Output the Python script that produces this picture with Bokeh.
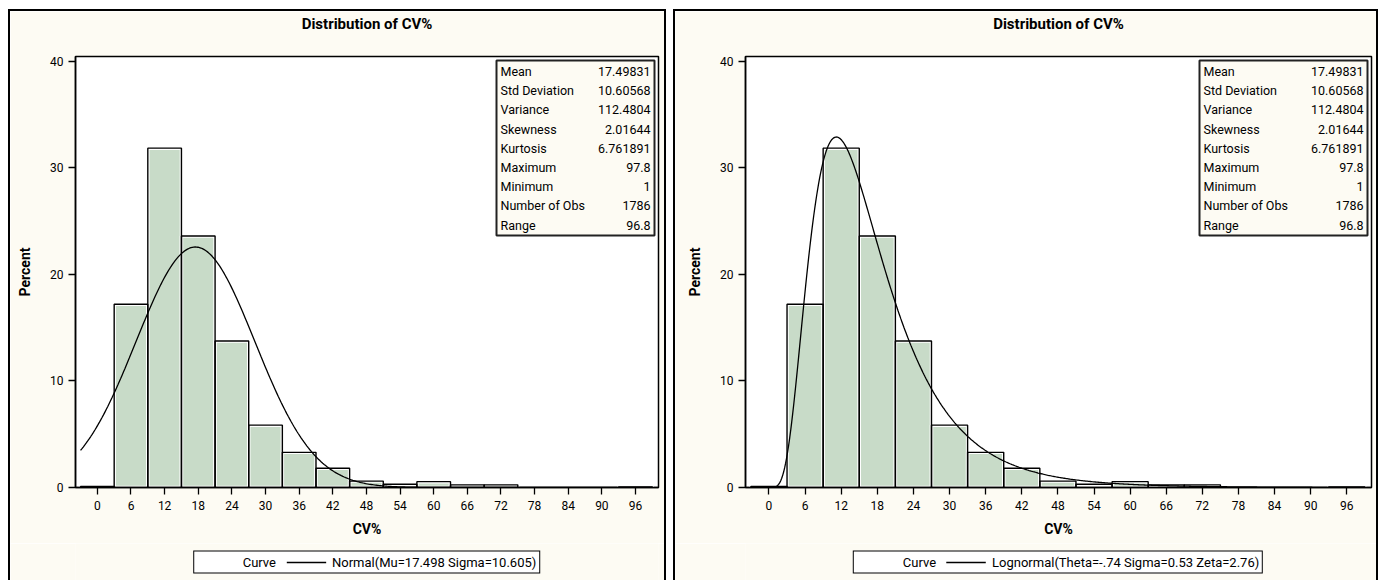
import numpy as np
from bokeh.plotting import figure
from bokeh.models import Range1d, FixedTicker, ColumnDataSource, Legend, LegendItem, Title
from bokeh.layouts import row, column
from bokeh.embed import file_html
from bokeh.resources import INLINE
from bokeh.core.properties import value

# ---------------- data ----------------
bin_centers = [0, 6, 12, 18, 24, 30, 36, 42, 48, 54, 60, 66, 72, 78, 84, 90, 96]
percent = [0.1, 17.2, 31.85, 23.6, 13.75, 5.85, 3.3, 1.8, 0.6, 0.3, 0.55, 0.25, 0.25, 0.0, 0.0, 0.0, 0.06]
bin_width = 6
x_ticks = [0, 6, 12, 18, 24, 30, 36, 42, 48, 54, 60, 66, 72, 78, 84, 90, 96]
y_ticks = [0, 10, 20, 30, 40]
chart_title = "Distribution of CV%"
x_label = "CV%"
y_label = "Percent"
stat_names = ["Mean", "Std Deviation", "Variance", "Skewness", "Kurtosis",
              "Maximum", "Minimum", "Number of Obs", "Range"]
stat_values = ["17.49831", "10.60568", "112.4804", "2.01644", "6.761891",
               "97.8", "1", "1786", "96.8"]
normal_mu, normal_sigma = 17.498, 10.605
logn_theta, logn_sigma, logn_zeta = -0.74, 0.53, 2.76
legend_title = "Curve"
legend_left = "Normal(Mu=17.498 Sigma=10.605)"
legend_right = "Lognormal(Theta=-.74 Sigma=0.53 Zeta=2.76)"

# ---------------- style ----------------
FONT = "Roboto"
BAR = "#c8dbc8"
PANEL_BG = "#fdfbf3"
X_MIN, X_MAX = -3.9, 100.1
Y_MIN, Y_MAX = 0.0, 40.45
FRAME_H = 431
BORDER = {"border-top": "2px solid black", "border-left": "2px solid black",
          "border-right": "2px solid black"}


def normal_pct(xs):
    return 100 * bin_width * np.exp(-0.5 * ((xs - normal_mu) / normal_sigma) ** 2) / (normal_sigma * np.sqrt(2 * np.pi))


def lognormal_pct(xs):
    t = xs - logn_theta
    return 100 * bin_width * np.exp(-((np.log(t) - logn_zeta) ** 2) / (2 * logn_sigma ** 2)) / (t * logn_sigma * np.sqrt(2 * np.pi))


def panel(curve_x, curve_y, legend_text, frame_w, border_left, border_right, box_w):
    p = figure(frame_width=frame_w, frame_height=FRAME_H,
               min_border_left=border_left, min_border_right=border_right,
               min_border_top=45, min_border_bottom=56,
               x_range=Range1d(X_MIN, X_MAX), y_range=Range1d(Y_MIN, Y_MAX),
               output_backend="svg", toolbar_location=None)
    p.background_fill_color = "white"
    p.border_fill_color = PANEL_BG
    p.outline_line_color = "black"
    p.outline_line_width = 1.5
    p.grid.visible = False

    spacer = Title(text=" ", text_font_size="15px", standoff=5)
    p.add_layout(spacer, "above")
    t = Title(text=chart_title, align="center", text_font=FONT, text_font_size="15px",
              text_font_style="bold", text_color="black", standoff=0)
    p.add_layout(t, "above")

    for ax in (p.xaxis[0], p.yaxis[0]):
        ax.axis_line_color = "black"
        ax.axis_line_width = 1.5
        ax.major_tick_line_color = "black"
        ax.major_tick_line_width = 1.3
        ax.major_tick_out = 7
        ax.major_tick_in = 0
        ax.minor_tick_line_color = None
        ax.major_label_text_font = FONT
        ax.major_label_text_font_size = "12px"
        ax.major_label_text_color = "black"
        ax.axis_label_text_font = FONT
        ax.axis_label_text_font_size = "14px"
        ax.axis_label_text_font_style = "bold"
        ax.axis_label_text_color = "black"
    p.xaxis.ticker = FixedTicker(ticks=x_ticks)
    p.yaxis.ticker = FixedTicker(ticks=y_ticks)
    p.xaxis.axis_label = x_label
    p.yaxis.axis_label = y_label
    p.xaxis.major_label_standoff = 6
    p.xaxis.axis_label_standoff = 8
    p.yaxis.major_label_standoff = 5
    p.yaxis.axis_label_standoff = 14

    keep = [i for i, v in enumerate(percent) if v > 0]
    src = ColumnDataSource(dict(
        left=[bin_centers[i] - bin_width / 2 for i in keep],
        right=[bin_centers[i] + bin_width / 2 for i in keep],
        top=[percent[i] for i in keep]))
    p.quad(left="left", right="right", bottom=0, top="top", source=src,
           fill_color=BAR, line_color="white", line_width=3.5)
    p.quad(left="left", right="right", bottom=0, top="top", source=src,
           fill_color=None, line_color="black", line_width=1.4)

    p.line(curve_x, curve_y, line_color="black", line_width=1.3)

    # statistics inset
    sx = frame_w / (X_MAX - X_MIN)
    sy = FRAME_H / (Y_MAX - Y_MIN)
    b_right = X_MAX - 4 / sx
    b_left = b_right - box_w / sx
    b_top = Y_MAX - 4 / sy
    b_bottom = b_top - 175 / sy
    p.quad(left=[b_left], right=[b_right], top=[b_top], bottom=[b_bottom],
           fill_color=PANEL_BG, line_color="#222222", line_width=2)
    rows_y = [b_top - (11 + 19.2 * i) / sy for i in range(len(stat_names))]
    p.text(x=[b_left] * len(stat_names), y=rows_y, text=stat_names, x_offset=4,
           text_align="left", text_baseline="middle", text_font=value(FONT),
           text_font_size="12.5px", text_color="black")
    p.text(x=[b_right] * len(stat_values), y=rows_y, text=stat_values, x_offset=-4,
           text_align="right", text_baseline="middle", text_font=value(FONT),
           text_font_size="12.5px", text_color="black")

    # legend strip under the axis (own small figure, frame aligned with main frame)
    lf = figure(frame_width=frame_w, frame_height=38,
                min_border_left=border_left, min_border_right=border_right,
                min_border_top=0, min_border_bottom=0,
                x_range=Range1d(1000, 1001), y_range=Range1d(1000, 1001),
                x_axis_location=None, y_axis_location=None,
                output_backend="svg", toolbar_location=None)
    lf.grid.visible = False
    lf.outline_line_color = None
    lf.background_fill_color = PANEL_BG
    lf.border_fill_color = PANEL_BG
    blank = lf.line(curve_x, curve_y, line_alpha=0)
    curve_sw = lf.line(curve_x, curve_y, line_color="black", line_width=1.3)
    leg = Legend(items=[LegendItem(label=legend_title, renderers=[blank]),
                        LegendItem(label=legend_text, renderers=[curve_sw])],
                 orientation="horizontal", location="center",
                 border_line_color="black", border_line_width=1.5, border_line_alpha=1,
                 background_fill_color="white", background_fill_alpha=1,
                 padding=3, margin=0, spacing=10, label_standoff=6,
                 glyph_width=40, glyph_height=13, label_height=13,
                 label_text_font=FONT, label_text_font_size="13px", label_text_color="black")
    lf.add_layout(leg, "center")

    return column(p, lf, spacing=0, styles=BORDER)


xs_left = np.linspace(-3, 99, 400)
c1 = panel(xs_left, normal_pct(xs_left), legend_left, 583, 65, 6, 158)
xs_right = np.linspace(logn_theta + 0.01, 99, 600)
c2 = panel(xs_right, lognormal_pct(xs_right), legend_right, 626, 70, 5, 168)

layout = row(c1, c2, spacing=7, margin=(9, 0, 0, 8))
open("out.html", "w").write(file_html(layout, INLINE))
